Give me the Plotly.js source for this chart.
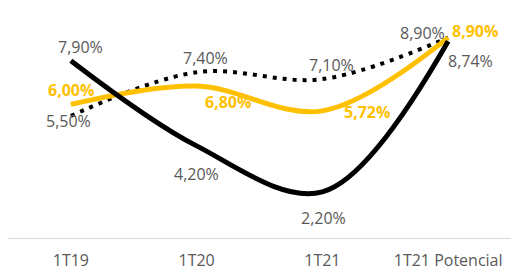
<!DOCTYPE html>
<html>
<head>
<meta charset="utf-8">
<script src="https://cdn.plot.ly/plotly-3.0.1.min.js"></script>
<style>html,body{margin:0;padding:0;background:#fff;}#chart{width:511px;height:271px;}</style>
</head>
<body>
<div id="chart"></div>
<script>
const categories = ["1T19", "1T20", "1T21", "1T21 Potencial"];
const seriesBlack = [7.90, 4.20, 2.20, 8.74];
const seriesDotted = [5.50, 7.40, 7.10, 8.90];
const seriesYellow = [6.00, 6.80, 5.72, 8.90];

// label offsets (px) per point: [xshift, yshift]
const offBlack = [[10, 14], [0, -28], [1, -26], [22, -20]];
const offDotted = [[-2, -5], [9, 14], [9, 14], [-26, 5]];
const offYellow = [[0, 14], [31, -16], [45, -1], [27, 7]];

const x = categories.map((c, i) => i);
const fmt = v => v.toFixed(2).replace('.', ',') + '%';

const traces = [
  {x: x, y: seriesDotted, mode: 'lines', line: {color: '#000000', width: 4, dash: '4px,6px', shape: 'spline', smoothing: 1}, hoverinfo: 'none'},
  {x: x, y: seriesYellow, mode: 'lines', line: {color: '#FFC000', width: 5, shape: 'spline', smoothing: 1}, hoverinfo: 'none'},
  {x: x, y: seriesBlack, mode: 'lines', line: {color: '#000000', width: 5, shape: 'spline', smoothing: 1}, hoverinfo: 'none'}
];

const annotations = [];
function addLabels(vals, offs, color, bold) {
  vals.forEach((v, i) => {
    annotations.push({
      x: x[i], y: v, xref: 'x', yref: 'y', showarrow: false,
      text: bold ? '<b>' + fmt(v) + '</b>' : fmt(v),
      xshift: offs[i][0], yshift: offs[i][1],
      font: {family: 'Open Sans, sans-serif', size: 16, color: color}
    });
  });
}
addLabels(seriesBlack, offBlack, '#595959', false);
addLabels(seriesDotted, offDotted, '#595959', false);
addLabels(seriesYellow, offYellow, '#FFC000', true);

const layout = {
  width: 511, height: 271,
  margin: {l: 8, r: 0, t: 10, b: 33},
  paper_bgcolor: '#ffffff', plot_bgcolor: '#ffffff',
  showlegend: false,
  xaxis: {
    range: [-0.5, 3.5], tickmode: 'array', tickvals: x, ticktext: categories,
    showgrid: false, zeroline: false, showline: true, linecolor: '#D9D9D9', linewidth: 1,
    ticks: '', ticklabelstandoff: 8,
    tickfont: {family: 'Open Sans, sans-serif', size: 16, color: '#595959'},
    fixedrange: true
  },
  yaxis: {range: [0.2, 10.1], visible: false, fixedrange: true},
  annotations: annotations
};

Plotly.newPlot('chart', traces, layout, {displayModeBar: false, staticPlot: true});
</script>
</body>
</html>
